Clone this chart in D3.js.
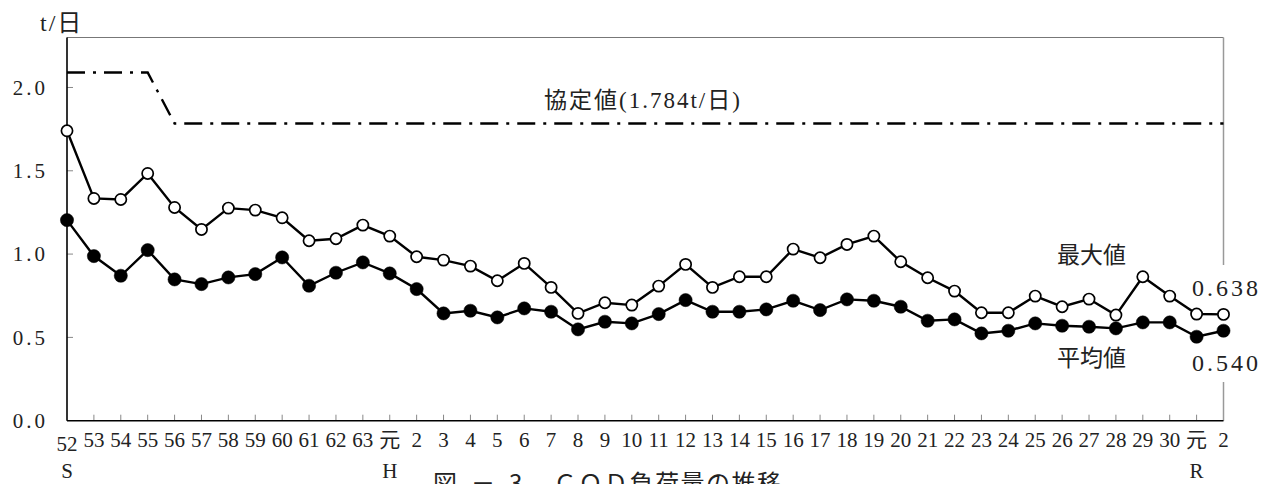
<!DOCTYPE html>
<html><head><meta charset="utf-8">
<script src="https://cdn.jsdelivr.net/npm/d3@7"></script>
<style>
body{margin:0;background:#fff}
svg{display:block}
.num{font-family:"Liberation Serif","Noto Sans CJK JP",serif;fill:#222}
.cjk{font-family:"Noto Sans CJK JP","Liberation Serif",sans-serif;fill:#222}
</style>
</head><body>
<svg id="c" width="1270" height="484"></svg>
<script>
// ---- data ----
const categories = ["52","53","54","55","56","57","58","59","60","61","62","63",
  "元","2","3","4","5","6","7","8","9","10","11","12","13","14","15","16","17","18","19","20",
  "21","22","23","24","25","26","27","28","29","30","元","2"];
const eras = ["S","","","","","","","","","","","",
  "H","","","","","","","","","","","","","","","","","","","",
  "","","","","","","","","","","R",""];
const maxValues = [1.74,1.334,1.328,1.484,1.28,1.148,1.276,1.264,1.218,1.08,1.092,1.174,
  1.108,0.984,0.964,0.928,0.84,0.944,0.80,0.644,0.708,0.694,0.808,0.938,0.80,0.864,0.864,1.03,0.978,1.058,1.108,0.954,
  0.858,0.778,0.648,0.648,0.748,0.684,0.73,0.634,0.864,0.748,0.64,0.638];
const avgValues = [1.204,0.988,0.87,1.024,0.848,0.82,0.86,0.88,0.98,0.81,0.888,0.95,
  0.884,0.79,0.644,0.66,0.62,0.674,0.654,0.548,0.594,0.584,0.64,0.724,0.654,0.654,0.668,0.72,0.664,0.728,0.72,0.684,
  0.60,0.608,0.524,0.54,0.584,0.57,0.564,0.554,0.59,0.59,0.504,0.540];
const limitValues = [2.09,2.09,2.09,2.09,1.784,1.784,1.784,1.784,1.784,1.784,1.784,1.784,
  1.784,1.784,1.784,1.784,1.784,1.784,1.784,1.784,1.784,1.784,1.784,1.784,1.784,1.784,1.784,1.784,1.784,1.784,1.784,1.784,
  1.784,1.784,1.784,1.784,1.784,1.784,1.784,1.784,1.784,1.784,1.784,1.784];
const yTicks = [0, 0.5, 1.0, 1.5, 2.0];
const yUnit = "t/日";
const limitLabel = "協定値(1.784t/日)";
const maxLabel = "最大値", avgLabel = "平均値";
const maxLast = "0.638", avgLast = "0.540";

// ---- layout ----
const svg = d3.select("#c");
const L = 67, R = 1223.5, T = 37.5, B = 420.7;
const idx = d3.range(categories.length);
const x = d3.scalePoint().domain(idx).range([L, R]);
const y = d3.scaleLinear().domain([0, 2.3]).range([B, T]);

// frame: top and right (grey)
svg.append("line").attr("x1", L).attr("x2", R).attr("y1", T).attr("y2", T)
  .attr("stroke", "#777").attr("stroke-width", 1);
svg.append("line").attr("x1", R).attr("x2", R).attr("y1", T).attr("y2", 265)
  .attr("stroke", "#999").attr("stroke-width", 1.5);
svg.append("line").attr("x1", R).attr("x2", R).attr("y1", 382).attr("y2", B)
  .attr("stroke", "#999").attr("stroke-width", 1.5);

// y ticks (inside)
svg.append("g").selectAll("line").data(yTicks.filter(d => d > 0)).join("line")
  .attr("x1", L).attr("x2", L + 6).attr("y1", d => y(d)).attr("y2", d => y(d))
  .attr("stroke", "#888").attr("stroke-width", 1);
svg.append("g").selectAll("text").data(yTicks).join("text")
  .attr("class", "num").attr("x", 48).attr("y", d => y(d)).attr("dy", "0.35em")
  .attr("text-anchor", "end").attr("font-size", 21).attr("letter-spacing", 3)
  .text(d => d3.format(".1f")(d));

// x ticks (inside)
svg.append("g").selectAll("line").data(idx.slice(1, -1)).join("line")
  .attr("x1", d => x(d)).attr("x2", d => x(d)).attr("y1", B).attr("y2", B - 6)
  .attr("stroke", "#888").attr("stroke-width", 1);
svg.append("g").selectAll("text").data(idx).join("text")
  .attr("class", "num").attr("x", d => x(d)).attr("y", d => d === 0 ? 451 : 447)
  .attr("text-anchor", "middle").attr("font-size", 21)
  .text(d => categories[d]);
svg.append("g").selectAll("text").data(idx.filter(d => eras[d])).join("text")
  .attr("class", "num").attr("x", d => x(d)).attr("y", 478)
  .attr("text-anchor", "middle").attr("font-size", 21)
  .text(d => eras[d]);

// axes (black)
svg.append("line").attr("x1", L).attr("x2", L).attr("y1", T).attr("y2", B)
  .attr("stroke", "#000").attr("stroke-width", 1.6);
svg.append("line").attr("x1", L).attr("x2", R).attr("y1", B).attr("y2", B)
  .attr("stroke", "#000").attr("stroke-width", 1.6);

// limit line
const line = d3.line().x((d, i) => x(i)).y(d => y(d));
svg.append("path").datum(limitValues).attr("d", line)
  .attr("fill", "none").attr("stroke", "#000").attr("stroke-width", 2.4)
  .attr("stroke-dasharray", "18,8,3,8");

// series
function series(vals, filled) {
  svg.append("path").datum(vals).attr("d", line)
    .attr("fill", "none").attr("stroke", "#000").attr("stroke-width", 2.4);
  svg.append("g").selectAll("circle").data(vals).join("circle")
    .attr("cx", (d, i) => x(i)).attr("cy", d => y(d))
    .attr("r", filled ? 6.6 : 5.6)
    .attr("fill", filled ? "#000" : "#fff")
    .attr("stroke", "#000").attr("stroke-width", filled ? 0.5 : 1.7);
}
series(maxValues, false);
series(avgValues, true);

// labels
svg.append("text").attr("class", "num").attr("x", 40).attr("y", 31)
  .attr("font-size", 24).attr("letter-spacing", 2).text(yUnit);
svg.append("text").attr("class", "num").attr("x", 643).attr("y", 108)
  .attr("text-anchor", "middle").attr("font-size", 23).attr("letter-spacing", 2)
  .text(limitLabel);
svg.append("text").attr("class", "cjk").attr("x", 1057).attr("y", 263)
  .attr("font-size", 23).text(maxLabel);
svg.append("text").attr("class", "cjk").attr("x", 1057).attr("y", 366)
  .attr("font-size", 23).text(avgLabel);
svg.append("text").attr("class", "num").attr("x", 1192).attr("y", 296)
  .attr("font-size", 24).attr("letter-spacing", 3).text(maxLast);
svg.append("text").attr("class", "num").attr("x", 1192).attr("y", 371)
  .attr("font-size", 24).attr("letter-spacing", 3).text(avgLast);

// caption (cut off at bottom, as in the source)
const cap = svg.append("text").attr("class", "cjk").attr("y", 492).attr("font-size", 24);
cap.append("tspan").attr("x", 433).attr("letter-spacing", 14).text("図－3");
cap.append("tspan").attr("x", 553).attr("letter-spacing", 1.5).text("ＣＯＤ負荷量の推移");
</script>
</body></html>
